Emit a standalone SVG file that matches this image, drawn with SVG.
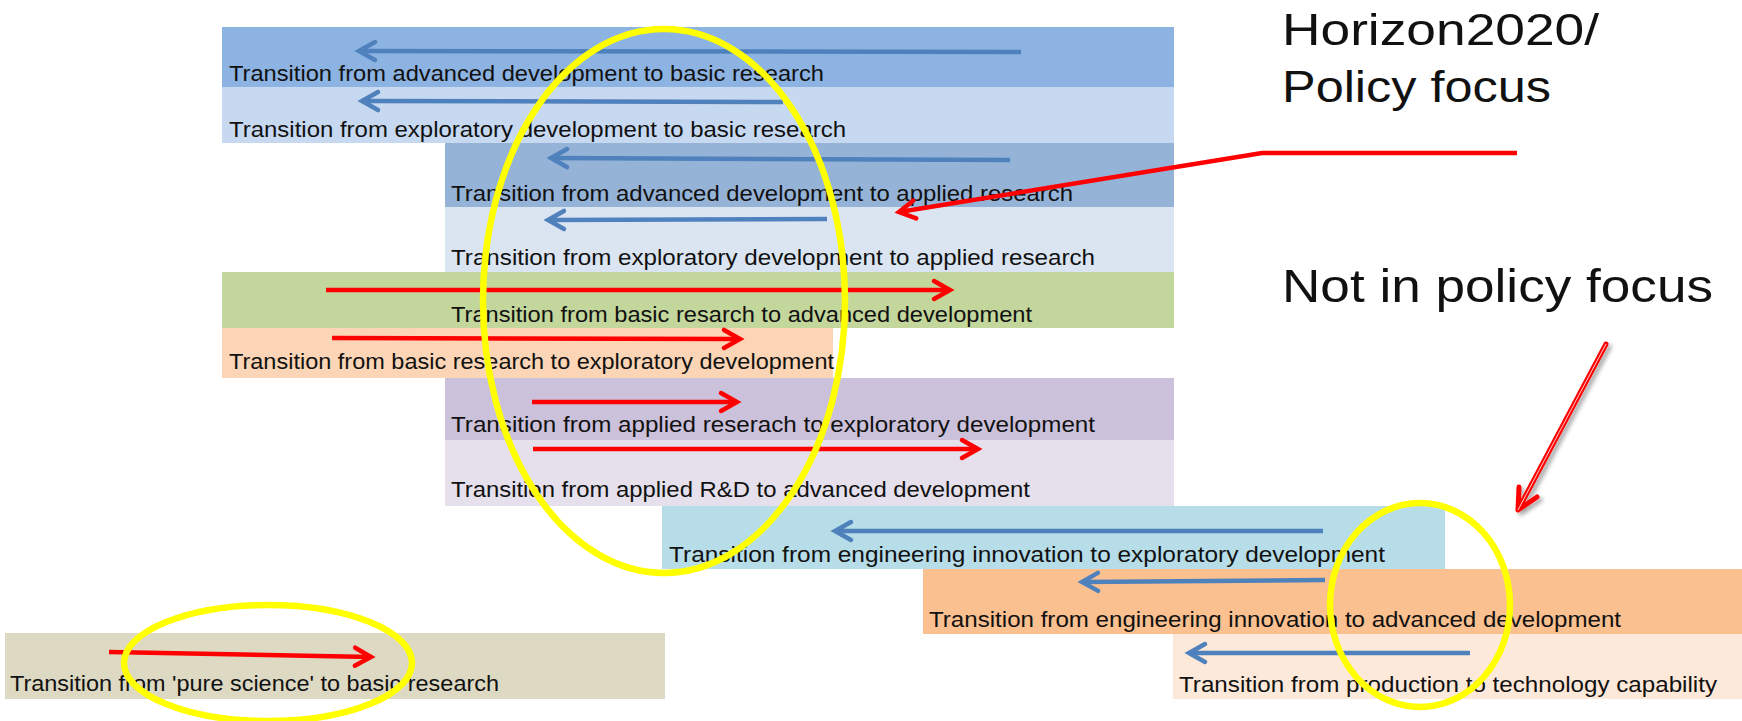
<svg xmlns="http://www.w3.org/2000/svg" width="1742" height="721" viewBox="0 0 1742 721">
  <style>
    .lbl { font-family: "Liberation Sans", Arial, sans-serif; font-size: 22px; fill: #111; }
    .big { font-family: "Liberation Sans", Arial, sans-serif; fill: #111; }
    .blue { stroke: #4F81BD; stroke-width: 4.5; fill: none; marker-end: url(#head-blue); }
    .red { stroke: #FF0000; stroke-width: 4.5; fill: none; marker-end: url(#head-red); }
    .ring { fill: none; stroke: #FFFF00; stroke-width: 6.5; }
  </style>
  <defs>
    <marker id="head-blue" markerUnits="userSpaceOnUse" viewBox="-20 -14 26 28" markerWidth="26" markerHeight="28" refX="0" refY="0" orient="auto" overflow="visible">
      <path d="M -16 -9 L 0 0 L -16 9" fill="none" stroke="#4F81BD" stroke-width="4.5" stroke-linecap="round" stroke-linejoin="miter"/>
    </marker>
    <marker id="head-red" markerUnits="userSpaceOnUse" viewBox="-20 -14 26 28" markerWidth="26" markerHeight="28" refX="0" refY="0" orient="auto" overflow="visible">
      <path d="M -16 -9 L 0 0 L -16 9" fill="none" stroke="#FF0000" stroke-width="4.5" stroke-linecap="round" stroke-linejoin="miter"/>
    </marker>
    <filter id="shade" x="-30%" y="-30%" width="160%" height="160%">
      <feDropShadow dx="3" dy="3" stdDeviation="2" flood-color="#000" flood-opacity="0.35"/>
    </filter>
  </defs>

  <!-- transition bands -->
  <g id="adv-dev-to-basic">
    <rect x="222" y="27" width="952" height="60" fill="#8DB3E2"/>
    <path class="blue" d="M1021 52 L359 51"/>
    <text class="lbl" x="229" y="81" textLength="595" lengthAdjust="spacingAndGlyphs">Transition from advanced development to basic research</text>
  </g>
  <g id="expl-dev-to-basic">
    <rect x="222" y="87" width="952" height="56" fill="#C6D9F1"/>
    <path class="blue" d="M783 102 L362 101"/>
    <text class="lbl" x="229" y="137" textLength="617" lengthAdjust="spacingAndGlyphs">Transition from exploratory development to basic research</text>
  </g>
  <g id="adv-dev-to-applied">
    <rect x="445" y="143" width="729" height="64" fill="#95B3D7"/>
    <path class="blue" d="M1010 160 L551 158"/>
    <text class="lbl" x="451" y="201" textLength="622" lengthAdjust="spacingAndGlyphs">Transition from advanced development to applied research</text>
  </g>
  <g id="expl-dev-to-applied">
    <rect x="445" y="207" width="729" height="65" fill="#DBE5F1"/>
    <path class="blue" d="M827 219 L548 220"/>
    <text class="lbl" x="451" y="265" textLength="644" lengthAdjust="spacingAndGlyphs">Transition from exploratory development to applied research</text>
  </g>
  <g id="basic-to-adv-dev">
    <rect x="222" y="272" width="952" height="56" fill="#C3D69B"/>
    <path class="red" d="M326 290 L950 290"/>
    <text class="lbl" x="451" y="322" textLength="581" lengthAdjust="spacingAndGlyphs">Transition from basic resarch to advanced development</text>
  </g>
  <g id="basic-to-expl-dev">
    <rect x="222" y="328" width="611" height="50" fill="#FBD5B5"/>
    <path class="red" d="M332 338 L740 339"/>
    <text class="lbl" x="229" y="369" textLength="605" lengthAdjust="spacingAndGlyphs">Transition from basic research to exploratory development</text>
  </g>
  <g id="applied-to-expl-dev">
    <rect x="445" y="378" width="729" height="62" fill="#CCC1DA"/>
    <path class="red" d="M532 402 L737 402"/>
    <text class="lbl" x="451" y="432" textLength="644" lengthAdjust="spacingAndGlyphs">Transition from applied reserach to exploratory development</text>
  </g>
  <g id="applied-rd-to-adv-dev">
    <rect x="445" y="440" width="729" height="66" fill="#E5E0EC"/>
    <path class="red" d="M533 449 L978 449"/>
    <text class="lbl" x="451" y="497" textLength="579" lengthAdjust="spacingAndGlyphs">Transition from applied R&amp;D to advanced development</text>
  </g>
  <g id="eng-to-expl-dev">
    <rect x="662" y="506" width="783" height="63" fill="#B7DDE8"/>
    <path class="blue" d="M1323 531 L835 531"/>
    <text class="lbl" x="669" y="562" textLength="716" lengthAdjust="spacingAndGlyphs">Transition from engineering innovation to exploratory development</text>
  </g>
  <g id="eng-to-adv-dev">
    <rect x="923" y="569" width="819" height="65" fill="#FAC090"/>
    <path class="blue" d="M1325 580 L1082 582"/>
    <text class="lbl" x="929" y="627" textLength="692" lengthAdjust="spacingAndGlyphs">Transition from engineering innovation to advanced development</text>
  </g>
  <g id="production-to-tech">
    <rect x="1173" y="634" width="569" height="65" fill="#FDE9D9"/>
    <path class="blue" d="M1470 653 L1189 653"/>
    <text class="lbl" x="1179" y="692" textLength="538" lengthAdjust="spacingAndGlyphs">Transition from production to technology capability</text>
  </g>
  <g id="pure-science-to-basic">
    <rect x="5" y="633" width="660" height="66" fill="#DDD9C3"/>
    <path class="red" d="M109 652 L371 657"/>
    <text class="lbl" x="10" y="691" textLength="489" lengthAdjust="spacingAndGlyphs">Transition from 'pure science' to basic research</text>
  </g>

  <!-- highlight rings -->
  <g id="rings">
    <ellipse class="ring" cx="664" cy="301" rx="181" ry="272"/>
    <ellipse class="ring" cx="268" cy="663" rx="144" ry="58"/>
    <ellipse class="ring" cx="1420" cy="605" rx="90" ry="102"/>
  </g>

  <!-- captions -->
  <g id="caption-horizon">
    <text class="big" x="1282" y="45" font-size="45" textLength="317" lengthAdjust="spacingAndGlyphs">Horizon2020/</text>
    <text class="big" x="1282" y="102" font-size="45" textLength="269" lengthAdjust="spacingAndGlyphs">Policy focus</text>
  </g>
  <g id="caption-not-focus">
    <text class="big" x="1282" y="302" font-size="47" textLength="431" lengthAdjust="spacingAndGlyphs">Not in policy focus</text>
  </g>

  <!-- callout connectors -->
  <g id="connectors">
    <path class="red" d="M1517 153 L1262 153 L899 212" stroke-width="4"/>
    <g filter="url(#shade)">
      <path d="M1606 344 L1518 510 M1519 487 L1518 510 L1537 497" fill="none" stroke="#FF0000" stroke-width="5" stroke-linecap="round" stroke-linejoin="round"/>
      <path d="M1606 344 L1518 510" fill="none" stroke="#FFFFFF" stroke-width="1" stroke-opacity="0.8"/>
    </g>
  </g>
</svg>
